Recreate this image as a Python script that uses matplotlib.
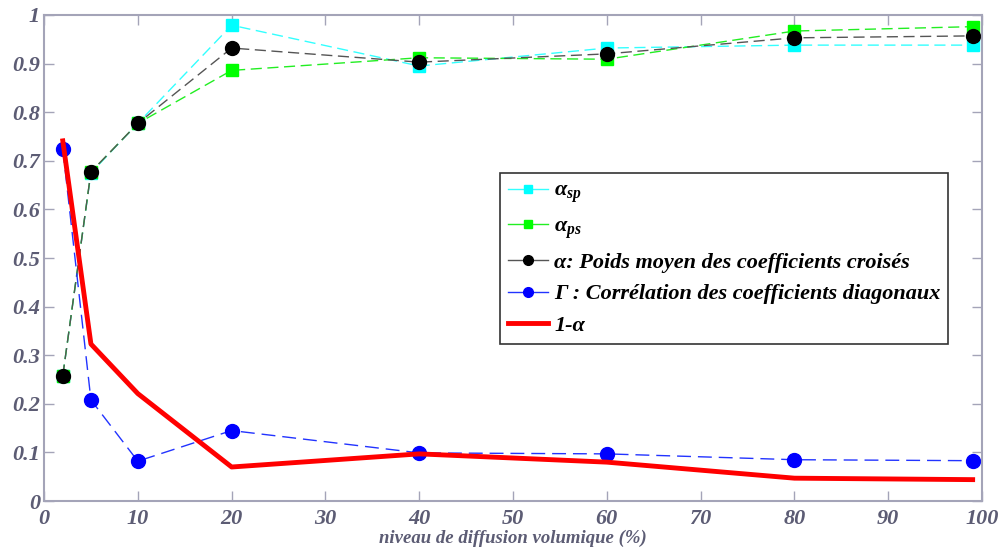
import numpy as np
import matplotlib
matplotlib.use('Agg')
import matplotlib.pyplot as plt

# diffusion levels (%)
niveau = [2, 5, 10, 20, 40, 60, 80, 99]

alpha_sp = [0.258, 0.675, 0.777, 0.979, 0.895, 0.932, 0.938, 0.938]
alpha_ps = [0.258, 0.677, 0.777, 0.886, 0.912, 0.909, 0.967, 0.976]
alpha_moy = [0.258, 0.677, 0.777, 0.932, 0.903, 0.920, 0.953, 0.957]
gamma = [0.724, 0.208, 0.082, 0.145, 0.099, 0.097, 0.085, 0.083]
un_moins_alpha = [0.741, 0.323, 0.221, 0.070, 0.097, 0.080, 0.047, 0.044]

labels = [r'$\alpha_{sp}$', r'$\alpha_{ps}$',
          'α: Poids moyen des coefficients croisés',
          'Γ : Corrélation des coefficients diagonaux',
          '1-α']
yticks = np.arange(0, 1.01, 0.1)
xticks = np.arange(0, 101, 10)

plt.rcParams['font.family'] = 'Liberation Serif'
plt.rcParams['mathtext.fontset'] = 'custom'
plt.rcParams['mathtext.it'] = 'Liberation Serif:bold:italic'
plt.rcParams['mathtext.rm'] = 'Liberation Serif:bold:italic'
plt.rcParams['mathtext.bf'] = 'Liberation Serif:bold:italic'

spine_col = '#a4a4b8'
txt_col = '#5c5c74'

fig = plt.figure(figsize=(10.03, 5.51), dpi=100)
ax = fig.add_axes([0.0439, 0.0907, 0.9352, 0.8821])

dash = (0, (8, 4))
ax.plot(niveau, alpha_sp, color='#33ffff', lw=1, ls=dash, marker='s',
        ms=8, mec='#00ffff', mfc='#00ffff', label=labels[0])
ax.plot(niveau, alpha_ps, color='#22ee22', lw=1, ls=dash, marker='s',
        ms=8, mec='#00ff00', mfc='#00ff00', label=labels[1])
ax.plot(niveau, alpha_moy, color='#555555', lw=1, ls=dash, marker='o',
        ms=10, mec='black', mfc='black', label=labels[2])
ax.plot(niveau, gamma, color='#2233ff', lw=1, ls=(0, (10, 5)), marker='o',
        ms=10, mec='#0000ff', mfc='#0000ff', label=labels[3])
ax.plot(niveau, un_moins_alpha, color='#ff0000', lw=3.5, label=labels[4])

ax.set_xlim(0, 100)
ax.set_ylim(0, 1)
ax.set_xticks(xticks)
ax.set_yticks(yticks)
ax.set_yticklabels(['0'] + ['%.1f' % v for v in yticks[1:-1]] + ['1'])

for s in ax.spines.values():
    s.set_color(spine_col)
    s.set_linewidth(1.5)
ax.tick_params(direction='in', length=7, width=1, color=spine_col,
               top=True, right=True, labelcolor=txt_col, labelsize=16)
ax.tick_params(axis='x', pad=6)
ax.tick_params(axis='y', pad=3)
for lab in ax.get_xticklabels() + ax.get_yticklabels():
    lab.set_fontweight('bold')
    lab.set_fontstyle('italic')

ax.set_xlabel('niveau de diffusion volumique (%)', fontsize=13.5,
              fontweight='bold', fontstyle='italic', color=txt_col, labelpad=0)

leg = ax.legend(loc='upper left', bbox_to_anchor=(0.486, 0.675),
                prop={'family': 'Liberation Serif', 'weight': 'bold',
                      'style': 'italic', 'size': 16},
                fancybox=False, edgecolor='#333333', framealpha=1,
                handlelength=1.8, handletextpad=0.3, labelspacing=0.5,
                borderpad=0.35, borderaxespad=0, markerscale=0.7)
leg.get_frame().set_linewidth(1.2)
# solid handles in the legend box, like the original
for h in leg.legend_handles:
    h.set_linestyle('-')

fig.savefig('out.png', dpi=100)
